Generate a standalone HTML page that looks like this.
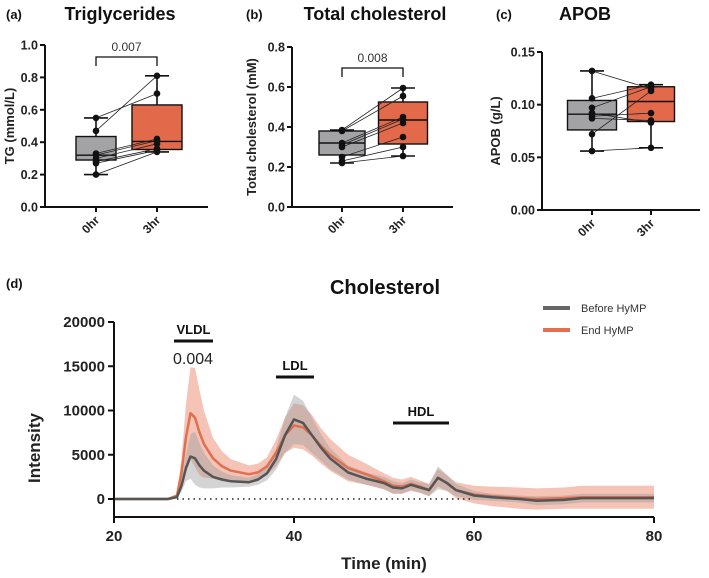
<!DOCTYPE html>
<html><head><meta charset="utf-8"><style>
html,body{margin:0;padding:0;background:#fff;}
svg{display:block;font-family:"Liberation Sans",Arial,sans-serif;}
</style></head><body>
<svg id="fig" width="709" height="578" viewBox="0 0 709 578" xmlns="http://www.w3.org/2000/svg"></svg>
<script>
// ---- Panel data ----
const catLabels = ["0hr","3hr"];
const tgBefore = [0.55,0.47,0.33,0.32,0.30,0.28,0.27,0.20];
const tgAfter  = [0.70,0.81,0.42,0.41,0.39,0.36,0.35,0.34];
const tgStatsBefore = [0.20,0.29,0.32,0.435,0.55];
const tgStatsAfter  = [0.34,0.355,0.405,0.63,0.81];
const tgTicks = [0,0.2,0.4,0.6,0.8,1.0];
const tgTickLabels = ["0.0","0.2","0.4","0.6","0.8","1.0"];
const tcBefore = [0.385,0.38,0.32,0.31,0.30,0.25,0.23,0.22];
const tcAfter  = [0.595,0.555,0.45,0.44,0.42,0.35,0.30,0.255];
const tcStatsBefore = [0.22,0.26,0.32,0.38,0.385];
const tcStatsAfter  = [0.255,0.315,0.435,0.525,0.595];
const tcTicks = [0,0.2,0.4,0.6,0.8];
const tcTickLabels = ["0.0","0.2","0.4","0.6","0.8"];
const apoBefore = [0.132,0.106,0.097,0.072,0.089,0.087,0.092,0.056];
const apoAfter  = [0.115,0.119,0.117,0.113,0.092,0.085,0.083,0.059];
const apoStatsBefore = [0.056,0.076,0.091,0.104,0.132];
const apoStatsAfter  = [0.059,0.084,0.103,0.117,0.119];
const apoTicks = [0,0.05,0.10,0.15];
const apoTickLabels = ["0.00","0.05","0.10","0.15"];
// ---- Chromatogram data ----
const timeMin = [20,26,27,27.5,28,28.5,29,29.5,30,31,32,33,35,36,37,38,39,40,41,42,43,44,46,48,50,51,52,53,54,55,56,57,58,60,62,65,67,70,72,80];
const beforeMean = [0,0,200,1500,3500,4800,4600,3800,3200,2500,2200,2000,1900,2200,2900,4500,7200,9000,8600,7200,5800,4600,3000,2300,1800,1300,1200,1600,1300,1000,2400,1800,1000,400,200,0,-200,-100,100,100];
const beforeSd = [50,50,100,700,1500,2500,3000,2500,2000,1300,900,700,500,600,800,1200,2000,2800,2500,2000,1500,1200,800,700,700,700,600,600,600,700,1300,900,700,500,400,400,500,500,500,500];
const endMean = [0,0,400,3000,7000,9700,9200,7500,6200,4600,3700,3200,2800,3000,3700,5200,7200,8300,8100,7200,6000,5000,3500,2800,2000,1500,1400,1700,1400,1000,2400,1800,1000,500,300,100,0,100,200,200];
const endSd = [50,50,200,1500,3800,5200,5600,4800,3800,2300,1700,1300,1000,1000,1000,1500,2000,2500,2500,2300,2000,1800,1500,1200,900,900,800,800,700,700,1000,900,900,1000,1100,1200,1200,1200,1300,1300];
const xTicks = [20,40,60,80];
const yTicks = [0,5000,10000,15000,20000];

const NS="http://www.w3.org/2000/svg";
const svg=document.getElementById('fig');
function mk(tag,attrs,parent){const e=document.createElementNS(NS,tag);for(const k in attrs)e.setAttribute(k,attrs[k]);(parent||svg).appendChild(e);return e;}
function txt(s,attrs,parent){const e=mk('text',attrs,parent);e.textContent=s;return e;}

function boxPanel(o){
  const g=mk('g',{});
  
  
  const y=v=>o.y0+(o.y1-o.y0)*(v-o.ticks[0])/(o.ticks[o.ticks.length-1]-o.ticks[0]);
  const ax=mk('path',{d:`M${o.ax},${o.y1} V${o.y0} H${o.axEnd}`,stroke:'#111','stroke-width':2,fill:'none'},g);
  
  
  o.ticks.forEach((t,i)=>{
    mk('line',{x1:o.ax-5,x2:o.ax,y1:y(t),y2:y(t),stroke:'#111','stroke-width':2},g);
    const tl=txt(o.tickLabels[i],{x:o.ax-7,y:y(t)+4.5,'text-anchor':'end','font-size':12.5,'font-weight':'bold',fill:'#222'},g);
    
    
  });
  o.cx.forEach((cx,i)=>{
    mk('line',{x1:cx,x2:cx,y1:o.y0,y2:o.y0+5,stroke:'#111','stroke-width':2},g);
    const tl=txt(catLabels[i],{transform:`translate(${cx+4},${o.y0+14}) rotate(-45)`,'text-anchor':'end','font-size':12,'font-weight':'bold',fill:'#222'},g);
    
    
  });
  [o.sB,o.sA].forEach((s,i)=>{
    const cx=o.cx[i],w=o.bw[i],fill=i?'#e2694a':'#a3a3a6';
    mk('line',{x1:cx,x2:cx,y1:y(s[0]),y2:y(s[4]),stroke:'#111','stroke-width':1.6},g);
    mk('line',{x1:cx-12,x2:cx+12,y1:y(s[0]),y2:y(s[0]),stroke:'#111','stroke-width':1.6},g);
    mk('line',{x1:cx-12,x2:cx+12,y1:y(s[4]),y2:y(s[4]),stroke:'#111','stroke-width':1.6},g);
    const b=mk('rect',{x:cx-w/2,y:y(s[3]),width:w,height:y(s[1])-y(s[3]),fill:fill,stroke:'#111','stroke-width':1.4},g);
    
    
    mk('line',{x1:cx-w/2,x2:cx+w/2,y1:y(s[2]),y2:y(s[2]),stroke:'#111','stroke-width':1.4},g);
  });
  o.dB.forEach((v,i)=>{
    mk('line',{x1:o.cx[0],y1:y(v),x2:o.cx[1],y2:y(o.dA[i]),stroke:'#222','stroke-width':0.8},g);
  });
  o.dB.forEach((v,i)=>{
    const p1=mk('circle',{cx:o.cx[0],cy:y(v),r:3.3,fill:'#111'},g);
    
    
    const p2=mk('circle',{cx:o.cx[1],cy:y(o.dA[i]),r:3.3,fill:'#111'},g);
    
    
  });
  if(o.p){
    mk('path',{d:`M${o.cx[0]},${o.br[1]} V${o.br[0]} H${o.cx[1]} V${o.br[1]}`,stroke:'#111','stroke-width':1.3,fill:'none'},g);
    const pt=txt(o.p,{x:(o.cx[0]+o.cx[1])/2,y:o.br[0]-6,'text-anchor':'middle','font-size':12,fill:'#333'},g);
    
    
  }
  const yl=txt(o.ylab,{transform:`translate(${o.ylx},${(o.y0+o.y1)/2}) rotate(-90)`,'text-anchor':'middle','font-size':13,'font-weight':'bold',fill:'#222'},g);
  
  
  const pl=txt(o.letter,{x:o.lx,y:19,'font-size':13,'font-weight':'bold',fill:'#111'},g);
  
  
  const ti=txt(o.title,{x:o.tx,y:20,'text-anchor':'middle','font-size':18,'font-weight':'bold',fill:'#111'},g);
  
  
}
boxPanel({name:'triglycerides-panel',ax:45,axEnd:208,y0:207,y1:45,ticks:tgTicks,tickLabels:tgTickLabels,cx:[96,157],bw:[40,50],sB:tgStatsBefore,sA:tgStatsAfter,dB:tgBefore,dA:tgAfter,p:'0.007',br:[57,66],ylab:'TG (mmol/L)',ylx:14,letter:'(a)',lx:6,title:'Triglycerides',tx:120});
boxPanel({name:'total-cholesterol-panel',ax:292,axEnd:453,y0:207,y1:47,ticks:tcTicks,tickLabels:tcTickLabels,cx:[342,403],bw:[46,49],sB:tcStatsBefore,sA:tcStatsAfter,dB:tcBefore,dA:tcAfter,p:'0.008',br:[68,77],ylab:'Total cholesterol (mM)',ylx:256,letter:'(b)',lx:246,title:'Total cholesterol',tx:375});
boxPanel({name:'apob-panel',ax:542,axEnd:700,y0:210,y1:52,ticks:apoTicks,tickLabels:apoTickLabels,cx:[592,651],bw:[49,47],sB:apoStatsBefore,sA:apoStatsAfter,dB:apoBefore,dA:apoAfter,p:null,ylab:'APOB (g/L)',ylx:500,letter:'(c)',lx:496,title:'APOB',tx:585});

// ---- Chromatogram ----
(function(){
  const g=mk('g',{});
  
  
  const X=t=>114+(t-20)*(654-114)/60;
  const Y=v=>499-v*(499-322)/20000;
  const line=(arr)=>arr.map((v,i)=>(i?'L':'M')+X(timeMin[i]).toFixed(1)+','+Y(v).toFixed(1)).join(' ');
  const band=(m,s)=>{const up=m.map((v,i)=>v+s[i]);const lo=m.map((v,i)=>v-s[i]);
    let d=up.map((v,i)=>(i?'L':'M')+X(timeMin[i]).toFixed(1)+','+Y(v).toFixed(1)).join(' ');
    for(let i=lo.length-1;i>=0;i--)d+=' L'+X(timeMin[i]).toFixed(1)+','+Y(lo[i]).toFixed(1);return d+' Z';};
  const b1=mk('path',{d:band(endMean,endSd),fill:'rgba(232,125,95,0.45)',stroke:'none'},g);
  
  
  const b2=mk('path',{d:band(beforeMean,beforeSd),fill:'rgba(160,160,160,0.45)',stroke:'none'},g);
  
  
  mk('line',{x1:X(27),x2:X(60),y1:Y(0),y2:Y(0),stroke:'#222','stroke-width':1.5,'stroke-dasharray':'1.5,4'},g);
  const l1=mk('path',{d:line(endMean),fill:'none',stroke:'#e0704f','stroke-width':2.5,'stroke-linejoin':'round'},g);
  
  
  const l2=mk('path',{d:line(beforeMean),fill:'none',stroke:'#555','stroke-width':2.5,'stroke-linejoin':'round'},g);
  
  
  const ax=mk('path',{d:`M114,${Y(20000)} V517 H654`,stroke:'#111','stroke-width':2,fill:'none'},g);
  
  
  yTicks.forEach(t=>{
    mk('line',{x1:108,x2:114,y1:Y(t),y2:Y(t),stroke:'#111','stroke-width':2},g);
    const tl=txt(String(t),{x:105,y:Y(t)+5,'text-anchor':'end','font-size':15,'font-weight':'bold',fill:'#222'},g);
    
    
  });
  xTicks.forEach(t=>{
    mk('line',{x1:X(t),x2:X(t),y1:517,y2:523,stroke:'#111','stroke-width':2},g);
    const tl=txt(String(t),{x:X(t),y:541,'text-anchor':'middle','font-size':15,'font-weight':'bold',fill:'#222'},g);
    
    
  });
  const xt=txt('Time (min)',{x:384,y:569,'text-anchor':'middle','font-size':17,'font-weight':'bold',fill:'#222'},g);
  
  
  const yt=txt('Intensity',{transform:'translate(40,448) rotate(-90)','text-anchor':'middle','font-size':17,'font-weight':'bold',fill:'#222'},g);
  
  
  const ti=txt('Cholesterol',{x:385,y:294,'text-anchor':'middle','font-size':20,'font-weight':'bold',fill:'#111'},g);
  
  
  const pl=txt('(d)',{x:6,y:288,'font-size':13,'font-weight':'bold',fill:'#111'},g);
  
  
  [['VLDL',174,213,341,329],['LDL',276,314,377,365],['HDL',393,449,423,411]].forEach(a=>{
    mk('line',{x1:a[1],x2:a[2],y1:a[3],y2:a[3],stroke:'#111','stroke-width':3},g);
    const t=txt(a[0],{x:(a[1]+a[2])/2,y:a[4]+5,'text-anchor':'middle','font-size':13,'font-weight':'bold',fill:'#111'},g);
    
    
  });
  const pv=txt('0.004',{x:193,y:364,'text-anchor':'middle','font-size':16,fill:'#222'},g);
  
  
  [['Before HyMP','#666',308],['End HyMP','#e0704f',330]].forEach(a=>{
    const lg=mk('g',{},g);
    
    
    mk('line',{x1:543,x2:570,y1:a[2],y2:a[2],stroke:a[1],'stroke-width':4},lg);
    txt(a[0],{x:581,y:a[2]+4,'font-size':11,fill:'#333'},lg);
  });
})();
</script>
</body></html>
